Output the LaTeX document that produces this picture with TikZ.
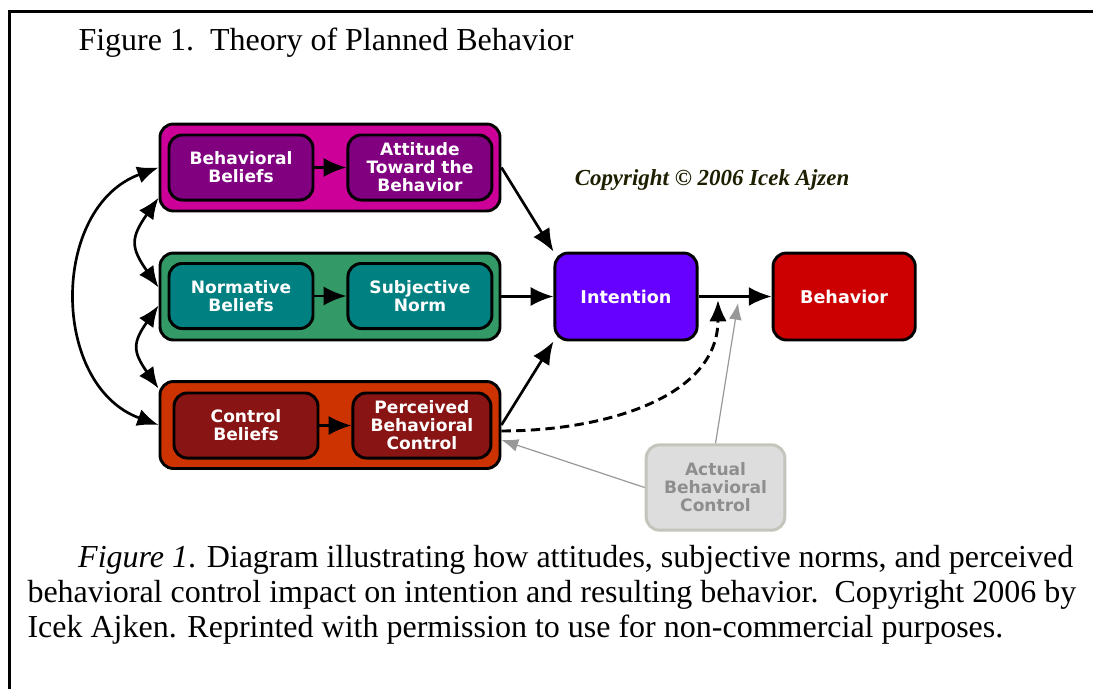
\documentclass[tikz,border=0pt]{standalone}
\usepackage{fontspec}
\setmainfont{Liberation Serif}
\newfontfamily\boxfont{DejaVu Sans}
\usetikzlibrary{arrows.meta,positioning}
\definecolor{attfill}{HTML}{CC0099}
\definecolor{attinner}{HTML}{800080}
\definecolor{normfill}{HTML}{339966}
\definecolor{norminner}{HTML}{008080}
\definecolor{ctrlfill}{HTML}{CC3300}
\definecolor{ctrlinner}{HTML}{881414}
\definecolor{intfill}{HTML}{6600FF}
\definecolor{behfill}{HTML}{CC0000}
\definecolor{actfill}{HTML}{DDDDDD}
\definecolor{actline}{HTML}{C4C4BC}
\definecolor{acttext}{HTML}{8E8E8E}
\definecolor{greyarrow}{HTML}{999999}
\definecolor{copytext}{HTML}{1E1E00}
\tikzset{
  outerbox/.style={draw=black, line width=1.1pt, rounded corners=5pt, minimum width=127.5pt, minimum height=32.6pt},
  innerbox/.style={draw=black, line width=1.1pt, rounded corners=5pt, align=center, inner sep=1pt, minimum width=54pt, minimum height=24.4pt, text=white, font=\boxfont\bfseries\fontsize{6.4}{6.75}\selectfont},
  mainbox/.style={innerbox, minimum width=53.3pt, minimum height=32.6pt, font=\boxfont\bfseries\fontsize{6.6}{7}\selectfont},
  arrow/.style={-{Latex[length=3mm,width=2.5mm]}, line width=1pt},
  dblarrow/.style={{Latex[length=2.8mm,width=2.3mm]}-{Latex[length=2.8mm,width=2.3mm]}, line width=1pt},
  dashedarrow/.style={-{Latex[length=2.8mm,width=2.3mm]}, line width=1.1pt, dash pattern=on 3.5pt off 2pt},
  greyarrow/.style={-{Latex[length=2.2mm,width=1.7mm]}, line width=0.45pt, draw=greyarrow, fill=greyarrow},
  plain/.style={font=\fontsize{12}{13.1}\selectfont, inner sep=0pt}
}
\begin{document}
\begin{tikzpicture}[x=0.375pt, y=-0.375pt, node distance=12pt]
\useasboundingbox (0,0) rectangle (1093,689);
\draw[line width=0.9pt] (1093,11.5) -- (9.5,11.5) -- (9.5,689);
\node[plain, anchor=base west] (title) at (78,50) {Figure 1.\ \ Theory of Planned Behavior};

% the three belief groups
\node[outerbox, fill=attfill] (attitudebox) at (330,167.5) {};
\node[outerbox, fill=normfill] (normbox) at (330,296.5) {};
\node[outerbox, fill=ctrlfill] (controlbox) at (330,425) {};
\node[innerbox, fill=attinner] (behbel) at (241,167.5) {Behavioral\\Beliefs};
\node[innerbox, fill=attinner, right=of behbel] (attitude) {Attitude\\Toward the\\Behavior};
\node[innerbox, fill=norminner] (normbel) at (241,296) {Normative\\Beliefs};
\node[innerbox, fill=norminner, right=of normbel] (subnorm) {Subjective\\Norm};
\node[innerbox, fill=ctrlinner] (ctrlbel) at (246,425.5) {Control\\Beliefs};
\node[innerbox, fill=ctrlinner, minimum width=51.75pt, right=of ctrlbel] (pbc) {Perceived\\Behavioral\\Control};

\node[mainbox, fill=intfill] (intention) at (626,296.5) {Intention};
\node[mainbox, fill=behfill, right=27.4pt of intention] (behavior) {Behavior};
\node[innerbox, fill=actfill, draw=actline, text=acttext, minimum width=52pt, minimum height=32pt] (actual) at (715.5,487.5) {Actual\\Behavioral\\Control};
\node[font=\bfseries\itshape\fontsize{8.6}{10}\selectfont, text=copytext] (copyright) at (712,180) {Copyright © 2006 Icek Ajzen};
\coordinate (dashtip) at (718,300);
\coordinate (greytip) at (738,303);

\draw[arrow] (behbel) -- (attitude);
\draw[arrow] (normbel) -- (subnorm);
\draw[arrow] (ctrlbel) -- (pbc);
\draw[arrow] (attitudebox.east) -- (intention.north west);
\draw[arrow] (normbox.east) -- (intention.west);
\draw[arrow] (controlbox.east) -- (intention.south west);
\draw[arrow] (intention) -- (behavior);
\draw[dashedarrow] (controlbox.-2) to[out=0,in=-90] (dashtip);
\draw[greyarrow] (actual.north) -- (greytip);
\draw[greyarrow] (actual.west) -- (controlbox.-5);

% correlations between the beliefs
\draw[dblarrow] (attitudebox.west) to[out=200,in=160,looseness=1.15] (controlbox.west);
\draw[dblarrow] (attitudebox.190) to[out=235,in=125,looseness=1.4] (normbox.177);
\draw[dblarrow] (normbox.183) to[out=235,in=125,looseness=1.4] (controlbox.168);

\node[plain, anchor=north west, align=left] (caption) at (27,545) {\hspace*{19pt}\textit{Figure 1}. Diagram illustrating how attitudes, subjective norms, and perceived\\behavioral control impact on intention and resulting behavior.\ \ Copyright 2006 by\\Icek Ajken. Reprinted with permission to use for non-commercial purposes.};
\end{tikzpicture}
\end{document}
